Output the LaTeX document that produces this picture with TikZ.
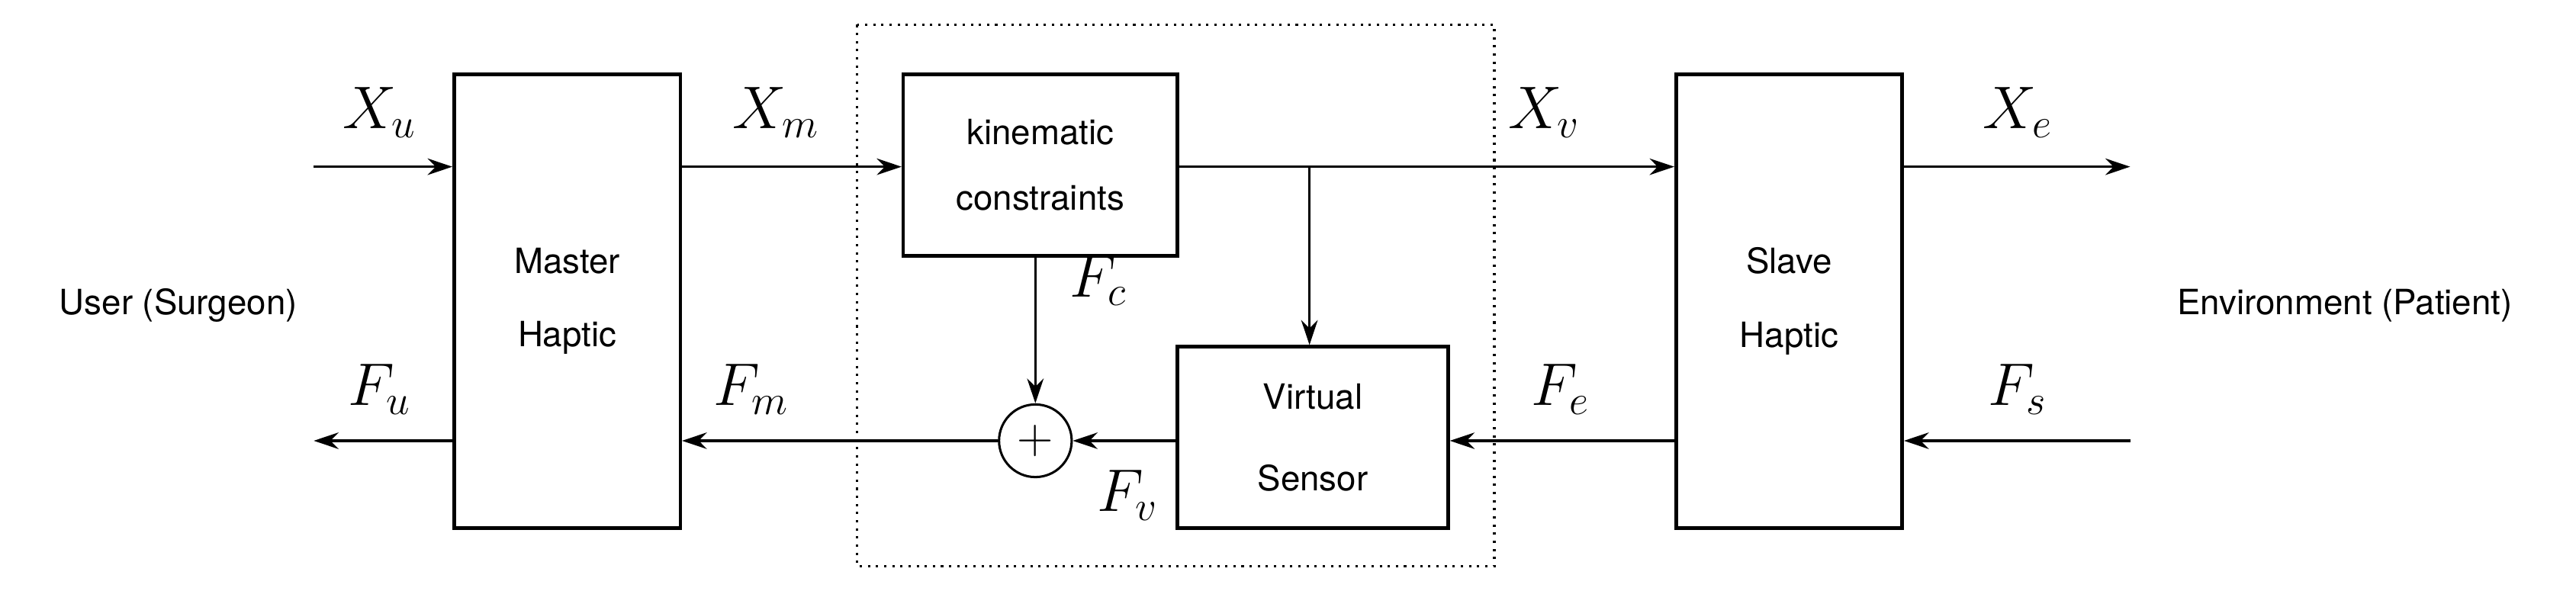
\documentclass[tikz,border=0pt]{standalone}
\usepackage{fontspec}
\setmainfont{TeX Gyre Heros}
\usepackage{amsmath}
\usetikzlibrary{arrows.meta,positioning}

\begin{document}
\begin{tikzpicture}[
  x=0.02cm, y=-0.02cm,
  box/.style={draw, line width=1.2pt, align=center, font=\large, inner sep=0pt},
  sig/.style={font=\huge},
  >={Stealth[length=3mm,width=2mm]},
  every path/.style={line width=0.8pt}
]
\useasboundingbox (0,0) rectangle (1560,358);

% blocks
\node[box, minimum width=2.74cm, minimum height=5.5cm] (master) at (343.5,182.5) {Master\\[4mm]Haptic};
\node[box, minimum width=3.32cm, minimum height=2.2cm] (kin) at (630,100) {kinematic\\[3mm]constraints};
\node[box, minimum width=3.28cm, minimum height=2.2cm] (vs) at (795,265) {Virtual\\[5mm]Sensor};
\node[box, minimum width=2.74cm, minimum height=5.5cm] (slave) at (1083.5,182.5) {Slave\\[4mm]Haptic};
\node[draw, circle, line width=0.8pt, minimum size=0.88cm, inner sep=0pt, font=\LARGE] (sum) at (627,267) {$+$};

% dotted frame
\draw[dotted, line width=1pt] (519,15) rectangle (905,343);

% side texts
\node[font=\large] (user) at (108,185) {User (Surgeon)};
\node[font=\large] (env) at (1420,185) {Environment (Patient)};

% free ends
\coordinate (xuin) at (190,101);
\coordinate (fuout) at (190,267);
\coordinate (xeout) at (1290,101);
\coordinate (fsin) at (1290,267);
\coordinate (split) at (793,101);

% forward path
\draw[->] (xuin) -- (master.west |- xuin);
\draw[->] (master.east |- xuin) -- (kin.west |- xuin);
\draw[->] (kin.east |- xuin) -- (slave.west |- xuin);
\draw[->] (slave.east |- xeout) -- (xeout);
\draw[->] (split) -- (split |- vs.north);

% force path
\draw[->] (fsin) -- (slave.east |- fsin);
\draw[->] (slave.west |- fsin) -- (vs.east |- fsin);
\draw[->] (vs.west |- sum) -- (sum.east);
\draw[->] (kin.south -| sum) -- (sum.north);
\draw[->] (sum.west) -- (master.east |- sum);
\draw[->] (master.west |- fuout) -- (fuout);

% labels
\node[sig] at (230,68) {$X_u$};
\node[sig] at (470,68) {$X_m$};
\node[sig] at (935,68) {$X_v$};
\node[sig] at (1222,68) {$X_e$};
\node[sig] at (230,236) {$F_u$};
\node[sig] at (455,236) {$F_m$};
\node[sig] at (665,170) {$F_c$};
\node[sig] at (683,300) {$F_v$};
\node[sig] at (945,236) {$F_e$};
\node[sig] at (1222,236) {$F_s$};
\end{tikzpicture}
\end{document}
